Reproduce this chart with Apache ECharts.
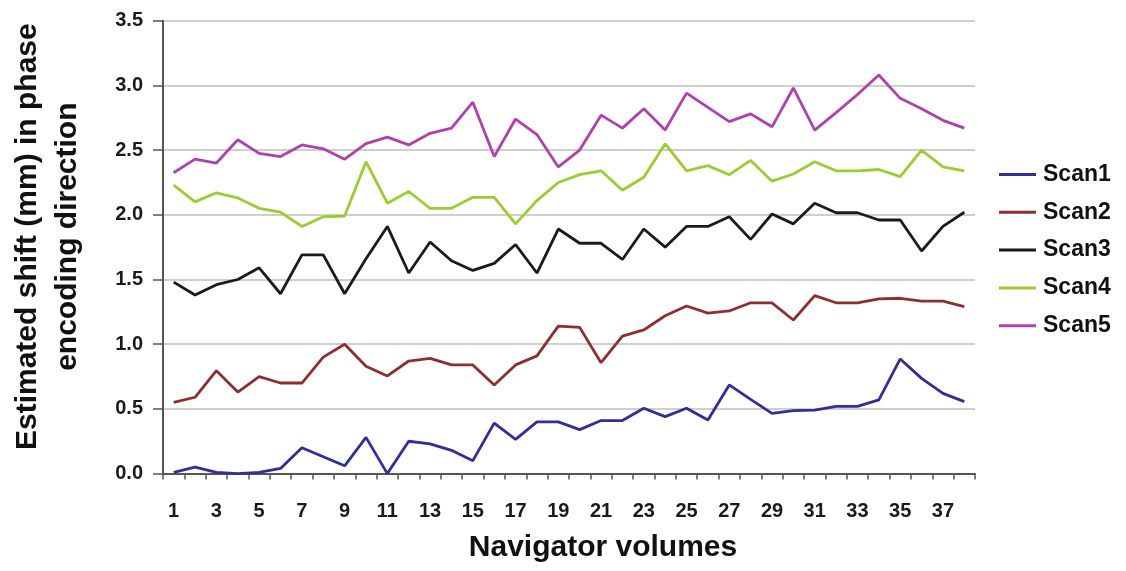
<!DOCTYPE html>
<html>
<head>
<meta charset="utf-8">
<script src="https://cdn.jsdelivr.net/npm/echarts@6/dist/echarts.min.js"></script>
<style>
html,body{margin:0;padding:0;background:#fff;}
#chart{width:1126px;height:571px;}
</style>
</head>
<body>
<div id="chart"></div>
<script>
const categories = ['1','2','3','4','5','6','7','8','9','10','11','12','13','14','15','16','17','18','19','20','21','22','23','24','25','26','27','28','29','30','31','32','33','34','35','36','37','38'];
const scan1 = [0.01,0.05,0.01,0.0,0.01,0.04,0.20,0.13,0.06,0.28,0.0,0.25,0.23,0.18,0.10,0.39,0.265,0.40,0.40,0.34,0.41,0.41,0.505,0.44,0.505,0.414,0.685,0.574,0.466,0.486,0.49,0.52,0.52,0.57,0.886,0.736,0.62,0.556];
const scan2 = [0.55,0.59,0.795,0.63,0.75,0.70,0.70,0.90,1.00,0.83,0.755,0.87,0.89,0.84,0.84,0.685,0.84,0.91,1.14,1.13,0.857,1.063,1.11,1.22,1.295,1.24,1.257,1.32,1.32,1.187,1.375,1.32,1.32,1.35,1.355,1.333,1.333,1.29];
const scan3 = [1.48,1.38,1.46,1.50,1.59,1.39,1.69,1.69,1.39,1.66,1.91,1.55,1.79,1.645,1.57,1.625,1.77,1.55,1.89,1.78,1.78,1.655,1.89,1.75,1.91,1.91,1.985,1.81,2.006,1.93,2.09,2.016,2.016,1.96,1.96,1.72,1.91,2.02];
const scan4 = [2.23,2.10,2.17,2.13,2.05,2.02,1.91,1.985,1.99,2.41,2.09,2.18,2.05,2.05,2.135,2.135,1.93,2.11,2.25,2.31,2.34,2.19,2.29,2.55,2.34,2.38,2.31,2.42,2.26,2.315,2.41,2.34,2.34,2.35,2.295,2.50,2.37,2.34];
const scan5 = [2.325,2.43,2.40,2.58,2.475,2.45,2.54,2.51,2.43,2.55,2.60,2.54,2.63,2.67,2.87,2.45,2.74,2.62,2.37,2.50,2.77,2.67,2.82,2.655,2.94,2.83,2.72,2.78,2.68,2.98,2.655,2.79,2.93,3.08,2.90,2.82,2.73,2.67];
const seriesNames = ['Scan1','Scan2','Scan3','Scan4','Scan5'];
const seriesColors = ['#2f2f96','#8e2f2f','#1a1a1a','#9acd32','#b040b0'];
const seriesData = [scan1, scan2, scan3, scan4, scan5];

const FONT = '"Liberation Sans", Arial, sans-serif';
const chart = echarts.init(document.getElementById('chart'), null, {renderer:'canvas'});
chart.setOption({
  animation:false,
  backgroundColor:'#ffffff',
  grid:{left:162, right:151, top:20.7, bottom:97.4, containLabel:false},
  legend:{
    orient:'vertical', left:994, top:158, itemGap:14.8,
    itemWidth:37, itemHeight:3, itemStyle:{borderWidth:0},
    icon:'rect',
    textStyle:{fontFamily:FONT, fontWeight:'bold', fontSize:23, color:'#111', padding:[0,0,0,2]},
    data:seriesNames
  },
  xAxis:{
    type:'category', data:categories, boundaryGap:true,
    name:'Navigator volumes', nameLocation:'middle', nameGap:59,
    nameTextStyle:{fontFamily:FONT, fontWeight:'bold', fontSize:30, color:'#111', padding:[0,0,0,68]},
    axisLine:{lineStyle:{color:'#555', width:2}},
    axisTick:{show:true, interval:0, length:6, lineStyle:{color:'#555', width:1.5}},
    axisLabel:{interval:1, margin:28, fontFamily:FONT, fontWeight:'bold', fontSize:20, color:'#1a1a1a'},
    splitLine:{show:false}
  },
  yAxis:{
    type:'value', min:0, max:3.5, interval:0.5,
    name:'Estimated shift (mm) in phase\nencoding direction',
    nameLocation:'middle', nameGap:75, nameRotate:90,
    nameTextStyle:{fontFamily:FONT, fontWeight:'bold', fontSize:30, color:'#111', lineHeight:40, padding:[0,0,0,21]},
    axisLine:{show:true, lineStyle:{color:'#555', width:2}},
    axisTick:{show:true, length:10, lineStyle:{color:'#555', width:1.5}},
    axisLabel:{margin:20, fontFamily:FONT, fontWeight:'bold', fontSize:20, color:'#1a1a1a', formatter:function(v){return v.toFixed(1);}},
    splitLine:{show:true, lineStyle:{color:'#cfcfcf', width:2}}
  },
  series: seriesNames.map(function(n,i){
    return {name:n, type:'line', data:seriesData[i], symbol:'none', smooth:false,
      lineStyle:{color:seriesColors[i], width:2.8}, itemStyle:{color:seriesColors[i]}};
  })
});
</script>
</body>
</html>
